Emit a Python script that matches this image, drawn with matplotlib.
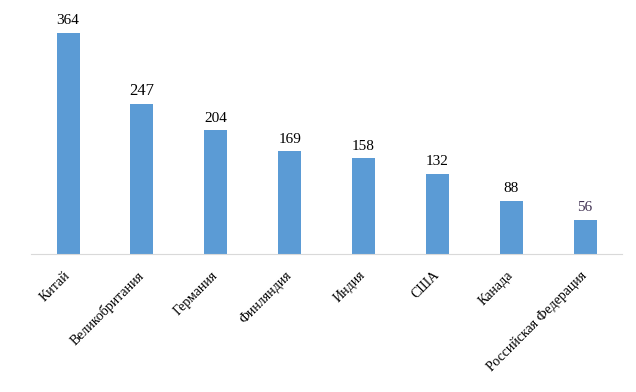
import numpy as np
import matplotlib.pyplot as plt

countries = ['Китай', 'Великобритания', 'Германия', 'Финляндия', 'Индия',
             'США', 'Канада', 'Российская Федерация']
values = [364, 247, 204, 169, 158, 132, 88, 56]

plt.rcParams['font.family'] = ['Liberation Serif', 'DejaVu Serif']

fig = plt.figure(figsize=(6.36, 3.92), dpi=100)
ax = fig.add_axes([0.049, 0.352, 0.929, 0.635])

x = np.arange(len(values))
bars = ax.bar(x, values, width=0.31, color='#5b9bd5')

for i, v in enumerate(values):
    col = '#403152' if v == 56 else 'black'
    size = 12 if v == 247 else 11
    ax.annotate(str(v), (i, v), xytext=(0, 4), textcoords='offset points',
                ha='center', va='bottom', fontsize=size, color=col)

ax.set_xlim(-0.5, len(values) - 0.5)
ax.set_ylim(0, 410)
ax.set_yticks([])
ax.set_xticks(x)
ax.set_xticklabels(countries, rotation=45, ha='right', va='center',
                   rotation_mode='anchor', fontsize=10)
ax.tick_params(axis='x', length=0, pad=14)
for s in ['top', 'right', 'left']:
    ax.spines[s].set_visible(False)
ax.spines['bottom'].set_color('#d9d9d9')

fig.savefig('out.png', dpi=100)
